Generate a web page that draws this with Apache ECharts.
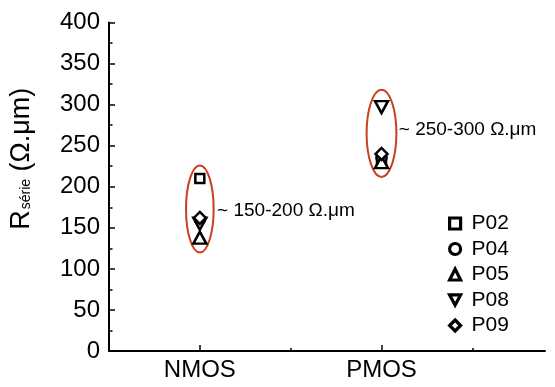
<!DOCTYPE html>
<html><head><meta charset="utf-8">
<script src="https://cdn.jsdelivr.net/npm/echarts@6/dist/echarts.min.js"></script>
<style>html,body{margin:0;padding:0;background:#fff}#c{width:555px;height:387px}</style>
</head><body><div id="c"></div>
<script>
// ---- data ----
const categories = ['NMOS', 'PMOS'];
const categoryX = [1, 2];
const seriesNames = ['P02', 'P04', 'P05', 'P08', 'P09'];
const P02 = [210, 230];
const P04 = [160, 235];
const P05 = [138, 230];
const P08 = [155, 297];
const P09 = [162, 240];
const yMin = 0, yMax = 400, yStep = 50;
const rangeNotes = ['~ 150-200 \u03A9.\u03BCm', '~ 250-300 \u03A9.\u03BCm'];
const groupCenterY = [173, 265];
const groupHalfY = [53, 53];
const groupHalfX = [0.076, 0.082];
const noteX = [1.095, 2.095];
const noteY = [171, 269];

const FONT = 'Liberation Sans, Arial, Helvetica, sans-serif';
const values = [P02, P04, P05, P08, P09];
const DOWN_TRI = 'path://M0,0L13,0L6.5,12Z';
const symbols = ['rect', 'circle', 'triangle', DOWN_TRI, 'diamond'];
const sizes = [9, 10, [13, 12], [13, 12], 12];

const chart = echarts.init(document.getElementById('c'), null, {renderer: 'canvas'});
const series = seriesNames.map((n, i) => ({
  name: n, type: 'scatter', xAxisIndex: 0, yAxisIndex: 0,
  symbol: symbols[i], symbolSize: sizes[i],
  itemStyle: {color: '#fff', borderColor: '#000', borderWidth: 2.5, opacity: 1},
  emphasis: {disabled: true}, z: 3,
  data: categoryX.map((x, j) => [x, values[i][j]])
}));

chart.setOption({
  animation: false,
  textStyle: {fontFamily: FONT},
  grid: {left: 101, right: 10, top: 22.5, bottom: 36, containLabel: false},
  legend: {
    orient: 'vertical', left: 443, top: 208, itemWidth: 11, itemHeight: 11, itemGap: 4.5,
    data: seriesNames.map((n, i) => ({name: n, icon: symbols[i]})), selectedMode: false,
    itemStyle: {borderWidth: 3.2},
    textStyle: {fontSize: 21, color: '#000', fontFamily: FONT, padding: [0, 0, 0, 6]}
  },
  xAxis: [{
    type: 'value', min: 0.5, max: 2.9, interval: 0.5, position: 'bottom',
    axisLine: {show: true, onZero: false, lineStyle: {color: '#000', width: 2}},
    axisTick: {show: true, inside: true, length: 6, customValues: categoryX, lineStyle: {color: '#000', width: 1.5}},
    axisLabel: {show: true, customValues: categoryX, fontSize: 24, color: '#000', margin: 7, fontFamily: FONT,
      formatter: v => { const k = categoryX.indexOf(v); return k >= 0 ? categories[k] : ''; }},
    splitLine: {show: false}
  }, {
    type: 'value', min: 0.5, max: 2.9, interval: 0.5, position: 'bottom',
    axisLine: {show: false},
    axisTick: {show: true, inside: true, length: 3, customValues: [1.5, 2.5], lineStyle: {color: '#000', width: 1.5}},
    axisLabel: {show: false}, splitLine: {show: false}
  }],
  yAxis: {
    type: 'value', min: yMin, max: yMax, interval: yStep,
    name: '{r|R}{s|s\u00E9rie}{r| (\u03A9.\u03BCm)}',
    nameLocation: 'middle', nameRotate: 90, nameGap: 74,
    nameTextStyle: {padding: [0, 0, 0, 56], rich: {
      r: {fontSize: 27, color: '#000', fontFamily: FONT, lineHeight: 30, verticalAlign: 'bottom'},
      s: {fontSize: 14, color: '#000', fontFamily: FONT, lineHeight: 16, verticalAlign: 'bottom', padding: [0, 0, 2, 1]}
    }},
    axisLine: {show: true, lineStyle: {color: '#000', width: 2}},
    axisTick: {show: true, inside: true, length: 6, lineStyle: {color: '#000', width: 1.5}},
    minorTick: {show: true, splitNumber: 2, length: 3.5, lineStyle: {color: '#000', width: 1.5}},
    axisLabel: {fontSize: 24, color: '#000', margin: 9, fontFamily: FONT},
    splitLine: {show: false}, minorSplitLine: {show: false}
  },
  series: series
});

function decorate() {
  const g = [];
  categoryX.forEach((x, i) => {
    const c = chart.convertToPixel({xAxisIndex: 0, yAxisIndex: 0}, [x, groupCenterY[i]]);
    const t = chart.convertToPixel({xAxisIndex: 0, yAxisIndex: 0}, [x, groupCenterY[i] + groupHalfY[i]]);
    const s = chart.convertToPixel({xAxisIndex: 0, yAxisIndex: 0}, [x + groupHalfX[i], groupCenterY[i]]);
    g.push({type: 'ellipse', z: 1, silent: true,
      shape: {cx: c[0], cy: c[1], rx: s[0] - c[0], ry: c[1] - t[1]},
      style: {fill: 'none', stroke: '#c9401e', lineWidth: 2}});
    const p = chart.convertToPixel({xAxisIndex: 0, yAxisIndex: 0}, [noteX[i], noteY[i]]);
    g.push({type: 'text', z: 5, silent: true, x: p[0], y: p[1],
      style: {text: rangeNotes[i], fontSize: 19, fontFamily: FONT, fill: '#000', align: 'left', verticalAlign: 'middle'}});
  });
  chart.setOption({graphic: g});
}
decorate();
</script>
</body></html>
